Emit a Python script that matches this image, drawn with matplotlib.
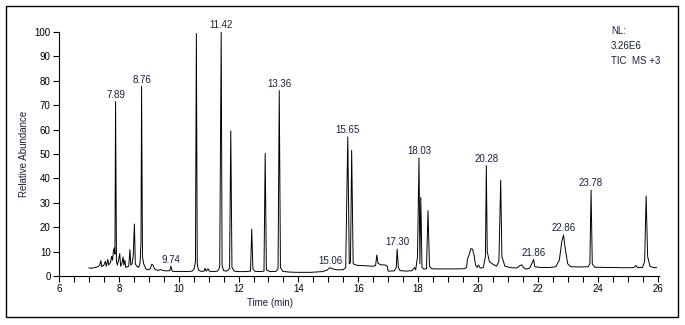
import matplotlib
matplotlib.use('Agg')
import matplotlib.pyplot as plt
from matplotlib.patches import Rectangle

plt.rcParams['font.family'] = ['Liberation Sans', 'DejaVu Sans']

# chromatogram trace (time in min, relative abundance)
trace_t = [7.00, 7.10, 7.20, 7.30, 7.36, 7.40, 7.43, 7.50, 7.55, 7.58, 7.63, 7.66,
           7.72, 7.76, 7.79, 7.82, 7.85, 7.87, 7.89, 7.92, 7.95, 7.99, 8.03, 8.06,
           8.10, 8.14, 8.17, 8.20, 8.23, 8.28, 8.33, 8.37, 8.40, 8.44, 8.48, 8.52,
           8.55, 8.60, 8.66, 8.71, 8.74, 8.76, 8.79, 8.83, 8.90, 8.98, 9.05, 9.10,
           9.14, 9.20, 9.30, 9.40, 9.50, 9.60, 9.70, 9.74, 9.78, 9.90, 10.10, 10.30,
           10.45, 10.52, 10.56, 10.59, 10.62, 10.66, 10.75, 10.85, 10.88, 10.92, 10.98, 11.02,
           11.15, 11.30, 11.37, 11.42, 11.45, 11.50, 11.60, 11.70, 11.74, 11.78, 11.85, 12.00,
           12.20, 12.40, 12.44, 12.48, 12.55, 12.75, 12.85, 12.89, 12.93, 13.05, 13.25, 13.32,
           13.36, 13.40, 13.48, 13.70, 14.00, 14.40, 14.80, 14.95, 15.06, 15.15, 15.30, 15.50,
           15.58, 15.65, 15.70, 15.74, 15.78, 15.83, 15.95, 16.20, 16.50, 16.58, 16.62, 16.66,
           16.75, 16.90, 16.97, 17.00, 17.20, 17.27, 17.30, 17.34, 17.40, 17.60, 17.80, 17.88,
           17.92, 17.98, 18.03, 18.06, 18.09, 18.13, 18.20, 18.28, 18.33, 18.38, 18.45, 18.60,
           19.00, 19.30, 19.55, 19.62, 19.65, 19.70, 19.76, 19.82, 19.87, 19.92, 19.97, 20.02,
           20.08, 20.18, 20.25, 20.28, 20.31, 20.38, 20.50, 20.62, 20.70, 20.76, 20.80, 20.90,
           21.10, 21.30, 21.40, 21.46, 21.52, 21.60, 21.72, 21.78, 21.86, 21.90, 22.10, 22.40,
           22.60, 22.72, 22.80, 22.86, 22.92, 23.00, 23.10, 23.40, 23.68, 23.74, 23.78, 23.82,
           23.90, 24.30, 24.80, 25.20, 25.28, 25.33, 25.50, 25.57, 25.62, 25.67, 25.75, 25.85,
           25.97]
trace_y = [3.3, 3.2, 3.5, 3.8, 4.5, 6.3, 3.8, 4.5, 6.0, 4.0, 6.8, 4.5,
           5.5, 8.0, 6.5, 10.5, 11.5, 9.0, 71.5, 6.0, 4.5, 6.5, 9.2, 4.0,
           5.0, 7.8, 4.5, 6.5, 3.5, 3.8, 4.0, 10.8, 4.5, 5.0, 8.0, 21.3,
           5.0, 4.0, 3.5, 5.5, 14.0, 77.8, 8.0, 5.0, 3.0, 2.5, 3.0, 4.8,
           4.5, 2.8, 2.3, 2.6, 2.2, 2.1, 2.2, 4.0, 2.0, 1.8, 1.9, 1.8,
           2.0, 3.0, 6.0, 99.4, 5.0, 2.4, 1.9, 2.0, 3.2, 2.0, 3.0, 2.0,
           1.8, 2.0, 3.5, 100.0, 4.5, 2.2, 2.0, 3.0, 59.5, 3.5, 2.0, 1.8,
           1.8, 2.0, 19.2, 3.0, 1.9, 1.8, 2.0, 50.3, 2.5, 1.8, 1.9, 3.0,
           76.0, 3.5, 1.9, 1.6, 1.5, 1.5, 1.8, 2.4, 3.4, 2.9, 2.5, 2.6,
           3.5, 57.0, 5.0, 5.5, 51.5, 5.0, 4.4, 4.2, 4.0, 4.3, 8.6, 5.2,
           4.6, 4.5, 4.0, 2.0, 2.1, 3.5, 11.0, 3.5, 2.2, 2.0, 2.2, 3.5,
           2.5, 8.0, 48.4, 5.0, 32.2, 3.5, 2.8, 3.0, 26.8, 4.0, 3.0, 2.9,
           2.9, 2.9, 3.0, 3.5, 7.0, 8.5, 11.2, 11.0, 8.5, 4.5, 3.5, 4.5,
           3.2, 3.5, 8.0, 45.2, 10.0, 6.0, 4.8, 4.0, 6.0, 39.3, 8.0, 4.0,
           3.4, 3.3, 4.2, 4.6, 3.5, 2.8, 3.2, 4.5, 6.8, 3.8, 3.5, 3.5,
           3.8, 6.5, 14.0, 16.8, 11.0, 5.0, 3.8, 3.7, 3.8, 5.0, 35.2, 5.0,
           3.6, 3.5, 3.4, 3.4, 4.3, 3.4, 3.5, 6.0, 32.8, 8.0, 4.0, 3.5,
           3.4]

# labelled peaks
label_t = [7.89, 8.76, 9.74, 11.42, 13.36, 15.06, 15.65, 17.30, 18.03, 20.28, 21.86, 22.86, 23.78]
label_y = [71.5, 77.8, 4.0, 100.0, 76.0, 3.4, 57.0, 11.0, 48.4, 45.2, 6.8, 16.8, 35.2]
label_txt = ['7.89', '8.76', '9.74', '11.42', '13.36', '15.06', '15.65', '17.30',
             '18.03', '20.28', '21.86', '22.86', '23.78']

info_lines = ['NL:', '3.26E6', 'TIC  MS +3']

FS = 7

fig = plt.figure(figsize=(6.85, 3.25), dpi=100)
ax = fig.add_axes([59 / 685, 1 - 276 / 325, 600 / 685, 244 / 325])

ax.plot(trace_t, trace_y, color='black', lw=0.7)

for t, h, s in zip(label_t, label_y, label_txt):
    ax.annotate(s, (t, h), xytext=(0, 1.2), textcoords='offset points',
                ha='center', va='bottom', fontsize=FS, color='#1a1f3a',
                annotation_clip=False)

ax.set_xlim(6, 26.05)
ax.set_ylim(0, 100)
ax.set_xticks(range(6, 27, 2))
ax.set_xticks([x / 2 for x in range(12, 53)], minor=True)
ax.set_yticks(range(0, 101, 10))
ax.tick_params(axis='both', which='both', direction='out', length=4, width=0.8,
               labelsize=FS, pad=2)
for side in ['top', 'right']:
    ax.spines[side].set_visible(False)
for side in ['left', 'bottom']:
    ax.spines[side].set_linewidth(0.8)

ax.set_ylabel('Relative Abundance', fontsize=FS, color='#1a1f3a')
ax.yaxis.set_label_coords(-0.05, 0.5)
fig.text(270 / 685, 1 - 303 / 325, 'Time (min)', ha='center', va='center',
         fontsize=FS, color='#1a1f3a')

for i, s in enumerate(info_lines):
    fig.text(611 / 685, 1 - (31 + i * 15) / 325, s, ha='left', va='center',
             fontsize=FS, color='#1a1f3a')

fig.patches.append(Rectangle((6 / 685, 1 - 317 / 325), 672 / 685, 311 / 325,
                             transform=fig.transFigure, fill=False,
                             edgecolor='black', lw=1.0))

fig.savefig('out.png', dpi=100)
